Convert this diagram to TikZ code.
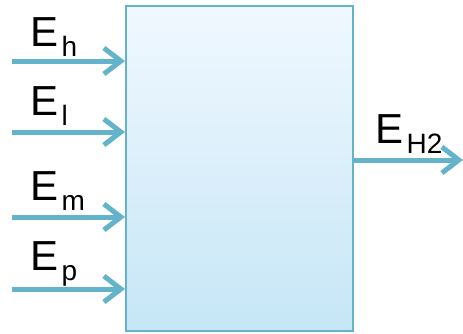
\documentclass[tikz,border=0pt]{standalone}
\usepackage{fontspec}
\setmainfont{Liberation Sans}
\usetikzlibrary{arrows.meta}
\definecolor{edge}{HTML}{63B4CB}
\definecolor{topc}{HTML}{F0F8FF}
\definecolor{botc}{HTML}{C6E6F6}
\newcommand{\elab}[1]{E\kern3.5pt\raisebox{-10.5pt}{\fontsize{28}{28}\selectfont #1}}
\begin{document}
\begin{tikzpicture}[x=1pt,y=-1pt,
  lab/.style={anchor=base west,inner sep=0pt,font=\fontsize{42}{42}\selectfont},
  flow/.style={draw=edge,line width=5pt,-{Straight Barb[length=17pt,width=26pt,line width=5pt]}}]
\useasboundingbox (0,0) rectangle (463,333);
\node[draw=edge,line width=1.5pt,top color=topc,bottom color=botc,minimum width=227pt,minimum height=325pt,inner sep=0pt,anchor=north west] (box) at (125,5) {};
\coordinate (i1) at (12,61);
\coordinate (i2) at (12,132);
\coordinate (i3) at (12,217);
\coordinate (i4) at (12,289);
\coordinate (o1) at (463,160);
\draw[flow] (i1) -- (i1 -| box.west);
\draw[flow] (i2) -- (i2 -| box.west);
\draw[flow] (i3) -- (i3 -| box.west);
\draw[flow] (i4) -- (i4 -| box.west);
\draw[flow] (o1 -| box.east) -- (o1);
\node[lab] (lh) at (30,46) {\elab{h}};
\node[lab] (ll) at (30,115) {\elab{l}};
\node[lab] (lm) at (30,200) {\elab{m}};
\node[lab] (lp) at (30,270) {\elab{p}};
\node[lab] (lo) at (375,143) {\elab{H2}};
\end{tikzpicture}
\end{document}
